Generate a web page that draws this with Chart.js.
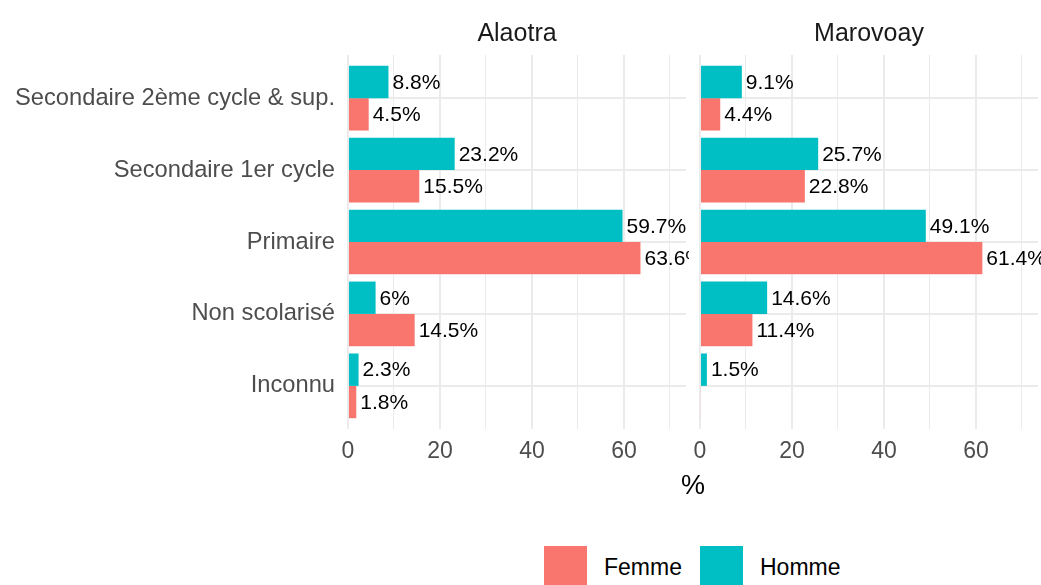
<!DOCTYPE html>
<html>
<head>
<meta charset="utf-8">
<script src="https://cdn.jsdelivr.net/npm/chart.js@4"></script>
<style>
  body { margin: 0; background: #fff; font-family: "Liberation Sans", Arial, sans-serif; }
  #wrap { position: relative; width: 1041px; height: 585px; overflow: hidden; }
  canvas { position: absolute; top: 0; }
  .xtitle { position: absolute; left: 0; width: 1386px; top: 470px; text-align: center; font-size: 27px; color: #000; }
  .key { position: absolute; top: 546px; width: 43px; height: 39px; }
  .lab { position: absolute; top: 552px; font-size: 23px; color: #000; line-height: 30px; }
</style>
</head>
<body>
<div id="wrap">
  <canvas id="left" width="690" height="479" style="left:0"></canvas>
  <canvas id="right" width="351" height="479" style="left:690px"></canvas>
  <div class="xtitle">%</div>
  <div class="key" style="left:544px;background:#F8766D"></div>
  <div class="lab" style="left:604px">Femme</div>
  <div class="key" style="left:700px;background:#00BFC4"></div>
  <div class="lab" style="left:760px">Homme</div>
</div>
<script>
// categories, top to bottom
var categories = ['Secondaire 2ème cycle & sup.', 'Secondaire 1er cycle', 'Primaire', 'Non scolarisé', 'Inconnu'];
var xTicks = [0, 10, 20, 30, 40, 50, 60, 70];

var alaotraHomme = [8.8, 23.2, 59.7, 6, 2.3];
var alaotraFemme = [4.5, 15.5, 63.6, 14.5, 1.8];
var marovoayHomme = [9.1, 25.7, 49.1, 14.6, 1.5];
var marovoayFemme = [4.4, 22.8, 61.4, 11.4, 0.2];

var font = '"Liberation Sans", Arial, sans-serif';

// labels next to the bars, clipped to the panel
var barLabels = {
    id: 'barLabels',
    afterDatasetsDraw: function(chart) {
        var ctx = chart.ctx, a = chart.chartArea;
        ctx.save();
        ctx.beginPath();
        ctx.rect(a.left, a.top, a.right - a.left + 3, a.bottom - a.top);
        ctx.clip();
        ctx.font = '21px ' + font;
        ctx.fillStyle = '#000';
        ctx.textBaseline = 'middle';
        chart.data.datasets.forEach(function(ds, i) {
            chart.getDatasetMeta(i).data.forEach(function(bar, j) {
                var v = ds.data[j].x;
                if (v < 0.5) return;
                ctx.fillText(v + '%', bar.x + 4, bar.y + 1);
            });
        });
        ctx.restore();
    }
};

function toPoints(values) {
    return values.map(function(v, i) { return { x: v, y: categories.length - i }; });
}

function makePanel(id, title, homme, femme, showY) {
    new Chart(document.getElementById(id), {
        type: 'bar',
        data: {
            datasets: [
                { label: 'Homme', data: toPoints(homme), backgroundColor: '#00BFC4' },
                { label: 'Femme', data: toPoints(femme), backgroundColor: '#F8766D' }
            ]
        },
        options: {
            indexAxis: 'y',
            responsive: false,
            animation: false,
            categoryPercentage: 0.9,
            barPercentage: 1,
            layout: { padding: { left: 0, right: showY ? 4 : 3, top: 0, bottom: 0 } },
            plugins: {
                legend: { display: false },
                tooltip: { enabled: false },
                title: {
                    display: true,
                    text: title,
                    fullSize: false,
                    color: '#1A1A1A',
                    font: { family: font, size: 25, weight: 'normal', lineHeight: 1.2 },
                    padding: { top: 19, bottom: 6 }
                }
            },
            scales: {
                x: {
                    type: 'linear',
                    min: 0,
                    max: 73.5,
                    afterBuildTicks: function(s) { s.ticks = xTicks.map(function(v) { return { value: v }; }); },
                    afterFit: function(s) { s.height = 50; s.paddingLeft = 0; s.paddingRight = 0; },
                    border: { display: false },
                    grid: {
                        drawTicks: false,
                        color: '#EBEBEB',
                        lineWidth: function(c) { return c.tick && c.tick.value % 20 === 0 ? 2 : 1; }
                    },
                    ticks: {
                        padding: 9,
                        color: '#4D4D4D',
                        font: { family: font, size: 23 },
                        callback: function(v) { return v % 20 === 0 ? v : ''; }
                    }
                },
                y: {
                    type: 'linear',
                    min: 0.4,
                    max: 5.6,
                    offset: false,
                    afterBuildTicks: function(s) {
                        s.ticks = categories.map(function(c, i) { return { value: i + 1 }; });
                    },
                    afterFit: function(s) { s.width = showY ? 348 : 10; },
                    border: { display: false },
                    grid: { offset: false, drawTicks: false, color: '#EBEBEB', lineWidth: 2 },
                    ticks: {
                        display: showY,
                        padding: 13,
                        color: '#4D4D4D',
                        font: { family: font, size: 23.7 },
                        callback: function(v) { return categories[categories.length - v]; }
                    }
                }
            }
        },
        plugins: [barLabels]
    });
}

makePanel('left', 'Alaotra', alaotraHomme, alaotraFemme, true);
makePanel('right', 'Marovoay', marovoayHomme, marovoayFemme, false);
</script>
</body>
</html>
